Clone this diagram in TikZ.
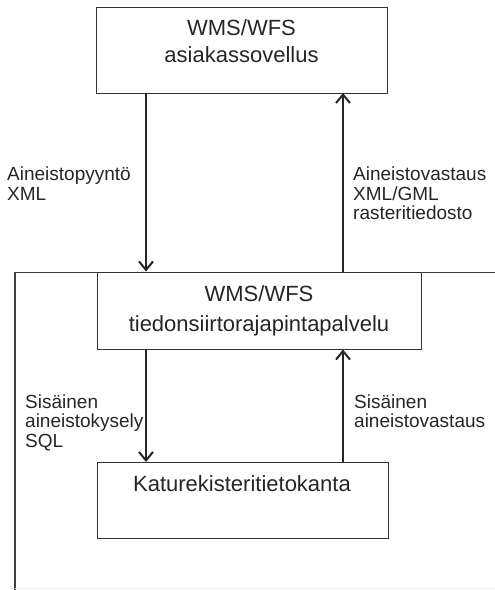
\documentclass[tikz,border=0pt]{standalone}
\usepackage{fontspec}
\setmainfont{Liberation Sans}
\usetikzlibrary{arrows.meta}
\begin{document}
\begin{tikzpicture}[x=1pt,y=-1pt,
  box/.style={draw=black!80,line width=1pt,rectangle,inner sep=0pt},
  boxtext/.style={anchor=base,inner sep=0pt,text=black!85,
    font=\fontsize{22pt}{26pt}\selectfont},
  flow/.style={draw=black!85,line width=2.8pt,
    -{Straight Barb[length=8.5pt,width=14pt,line width=2pt]}},
  lbl/.style={anchor=north west,inner sep=0pt,align=left,text=black!85,
    font=\fontsize{19pt}{19.5pt}\selectfont}]
\useasboundingbox (0,0) rectangle (495,590);

% enclosing service frame (open to the right and bottom)
\draw[black!75,line width=1.6pt] (15,590) -- (15,272.5) -- (495,272.5);
\draw[black!8,line width=0.8pt] (15,588) -- (495,588);

% boxes
\node[box,minimum width=291pt,minimum height=86pt] (client) at (241.5,50) {};
\node[box,minimum width=324pt,minimum height=77pt,fill=white] (api) at (259,310.5) {};
\node[box,minimum width=291pt,minimum height=76pt] (db) at (242.5,500) {};

% box texts
\node[boxtext] (client1) at (241.5,35) {WMS/WFS};
\node[boxtext] (client2) at (241.5,62) {asiakassovellus};
\node[boxtext] (api1) at (259,301.5) {WMS/WFS};
\node[boxtext] (api2) at (259,331.5) {tiedonsiirtorajapintapalvelu};
\node[boxtext] (db1) at (242,491) {Katurekisteritietokanta};

% connectors
\coordinate (c1) at (146,93);
\coordinate (c2) at (343,93);
\coordinate (d1) at (146,462);
\coordinate (d2) at (343,462);
\draw[flow] (c1) -- (c1 |- api.north);
\draw[flow] (c2 |- api.north) -- (c2);
\draw[flow] (c1 |- api.south) -- (d1);
\draw[flow] (d2) -- (c2 |- api.south);

% connector labels
\node[lbl] (q1) at (7,167) {Aineistopyyntö\\XML};
\node[lbl] (r1) at (353,167) {Aineistovastaus\\XML/GML\\rasteritiedosto};
\node[lbl] (q2) at (25,394.5) {Sisäinen\\aineistokysely\\SQL};
\node[lbl] (r2) at (354,394.5) {Sisäinen\\aineistovastaus};
\end{tikzpicture}
\end{document}
